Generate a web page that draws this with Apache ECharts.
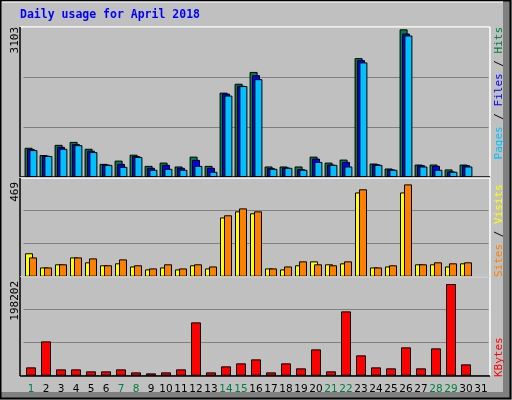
<!DOCTYPE html>
<html>
<head>
<meta charset="utf-8">
<title>Daily usage for April 2018</title>
<style>
  * { margin: 0; padding: 0; }
  #chart-container { width: 512px; height: 400px; }
</style>
</head>
<body>
<div id="chart-container"></div>
<script src="https://cdn.jsdelivr.net/npm/echarts@6/dist/echarts.min.js"></script>
<script>
var days = [];
for (var d = 1; d <= 31; d++) days.push(String(d));
var weekendDays = ['1', '7', '8', '14', '15', '21', '22', '28', '29'];

var hits = [614, 462, 676, 738, 593, 276, 345, 469, 234, 303, 221, 428, 234, 1773, 1960, 2208,
  221, 221, 221, 428, 303, 366, 2498, 283, 179, 3103, 262, 262, 159, 262, null];
var files = [586, 448, 634, 690, 552, 262, 276, 441, 193, 255, 193, 359, 193, 1752, 1918, 2139,
  186, 200, 166, 386, 262, 317, 2456, 269, 159, 3015, 248, 234, 117, 248, null];
var pages = [566, 441, 593, 669, 524, 255, 214, 421, 152, 172, 152, 234, 110, 1711, 1911, 2056,
  172, 193, 152, 317, 255, 221, 2408, 255, 152, 2974, 221, 152, 110, 221, null];
var sites = [119, 47, 63, 98, 73, 58, 68, 52, 37, 47, 37, 58, 42, 301, 332, 322,
  42, 37, 58, 78, 63, 68, 428, 47, 52, 428, 63, 63, 52, 68, null];
var visits = [98, 47, 63, 98, 93, 58, 88, 58, 42, 63, 42, 63, 52, 312, 347, 332,
  42, 52, 78, 63, 58, 78, 444, 47, 58, 469, 63, 73, 68, 73, null];
var kbytes = [18000, 74200, 13700, 13700, 9400, 9400, 13700, 7200, 5000, 7200, 13700, 115300, 7200,
  20200, 26700, 35300, 7200, 26700, 15900, 56900, 9400, 139100, 44000, 18000, 15900, 61300,
  15900, 59100, 198202, 24500, null];

var dom = document.getElementById('chart-container');
var myChart = echarts.init(dom, null, { renderer: 'canvas' });

var mono = 'DejaVu Sans Mono';
var panels = [
  { top: 27, height: 150, max: 3152 },
  { top: 177.7, height: 99, max: 503 },
  { top: 276.7, height: 99, max: 214050 }
];

function barBase(name, color, data, idx, width, gap) {
  return {
    name: name, type: 'bar', data: data, xAxisIndex: idx, yAxisIndex: idx,
    barWidth: width, barGap: gap, animation: false,
    itemStyle: { color: color, borderColor: '#000', borderWidth: 1 }
  };
}

var grids = [], xAxes = [], yAxes = [], lines = [];
panels.forEach(function (p, i) {
  grids.push({ left: 23.5, width: 465, top: p.top, height: p.height });
  xAxes.push({
    type: 'category', gridIndex: i, data: days,
    axisLine: { show: false }, axisTick: { show: false },
    axisLabel: i === 2 ? {
      interval: 0, margin: 8, fontFamily: 'DejaVu Sans', fontSize: 10.5,
      color: function (v) { return weekendDays.indexOf(v) >= 0 ? '#008040' : '#000'; }
    } : { show: false }
  });
  yAxes.push({
    type: 'value', gridIndex: i, min: 0, max: p.max, interval: p.max / 3,
    axisLabel: { show: false }, axisTick: { show: false }, axisLine: { show: false },
    splitLine: { lineStyle: { color: '#808080', width: 1 } }
  });
  var y0 = Math.round(p.top), y1 = Math.round(p.top + p.height);
  lines.push({ type: 'line', shape: { x1: 20, y1: y0, x2: 490, y2: y0 }, style: { stroke: '#fff', lineWidth: 1.5 }, z: 10 });
  lines.push({ type: 'line', shape: { x1: 490, y1: y0, x2: 490, y2: y1 }, style: { stroke: '#fff', lineWidth: 1.5 }, z: 10 });
  lines.push({ type: 'line', shape: { x1: 20, y1: y0, x2: 20, y2: y1 }, style: { stroke: '#000', lineWidth: 1.5 }, z: 10 });
  lines.push({ type: 'line', shape: { x1: 20, y1: y1, x2: 490, y2: y1 }, style: { stroke: '#000', lineWidth: 1.5 }, z: 10 });
});

function vText(x, y, align, rich, text) {
  return {
    type: 'text', x: x, y: y, rotation: Math.PI / 2, z: 20,
    style: { text: text, rich: rich, align: align, verticalAlign: 'middle',
      font: '11px ' + mono, fill: '#000' }
  };
}

var rich = {
  p: { fill: '#00c0ff', font: '11px ' + mono },
  f: { fill: '#0000ff', font: '11px ' + mono },
  h: { fill: '#008040', font: '11px ' + mono },
  s: { fill: '#ff8000', font: '11px ' + mono },
  v: { fill: '#ffff00', font: '11px ' + mono },
  k: { fill: '#ff0000', font: '11px ' + mono },
  b: { fill: '#000', font: '11px ' + mono }
};

var graphics = [
  { type: 'rect', shape: { x: 0, y: 0, width: 512, height: 400 }, style: { fill: '#c0c0c0' }, z: -10 },
  { type: 'rect', shape: { x: 503, y: 0, width: 7, height: 398 }, style: { fill: '#808080' }, z: -9 },
  { type: 'rect', shape: { x: 0, y: 392, width: 510, height: 6 }, style: { fill: '#808080' }, z: -9 },
  { type: 'rect', shape: { x: 0.5, y: 0.5, width: 510, height: 398 }, style: { fill: 'none', stroke: '#000', lineWidth: 2 }, z: -8 },
  { type: 'line', shape: { x1: 2, y1: 2, x2: 503, y2: 2 }, style: { stroke: '#fff', lineWidth: 1 }, z: -8 },
  {
    type: 'text', x: 20, y: 15, z: 20,
    style: { text: 'Daily usage for April 2018', font: 'bold 11.5px ' + mono, fill: '#0000ff', verticalAlign: 'middle' }
  },
  vText(15, 27, 'right', rich, '3103'),
  vText(15, 182, 'right', rich, '469'),
  vText(15, 281, 'right', rich, '198202'),
  vText(499, 27, 'right', rich, '{p|Pages} {b|/} {f|Files} {b|/} {h|Hits}'),
  vText(499, 277, 'left', rich, '{s|Sites} {b|/} {v|Visits}'),
  vText(499, 377, 'left', rich, '{k|KBytes}')
].concat(lines);

var option = {
  backgroundColor: '#c0c0c0',
  grid: grids,
  xAxis: xAxes,
  yAxis: yAxes,
  graphic: graphics,
  series: [
    barBase('Hits', '#008040', hits, 0, 8, '-70%'),
    barBase('Files', '#0000ff', files, 0, 8, '-70%'),
    barBase('Pages', '#00c0ff', pages, 0, 8, '-70%'),
    barBase('Sites', '#ffff00', sites, 1, 8, '-50%'),
    barBase('Visits', '#ff8000', visits, 1, 8, '-50%'),
    barBase('KBytes', '#ff0000', kbytes, 2, 10, '0%')
  ]
};

myChart.setOption(option);
window.addEventListener('resize', myChart.resize);
</script>
</body>
</html>
